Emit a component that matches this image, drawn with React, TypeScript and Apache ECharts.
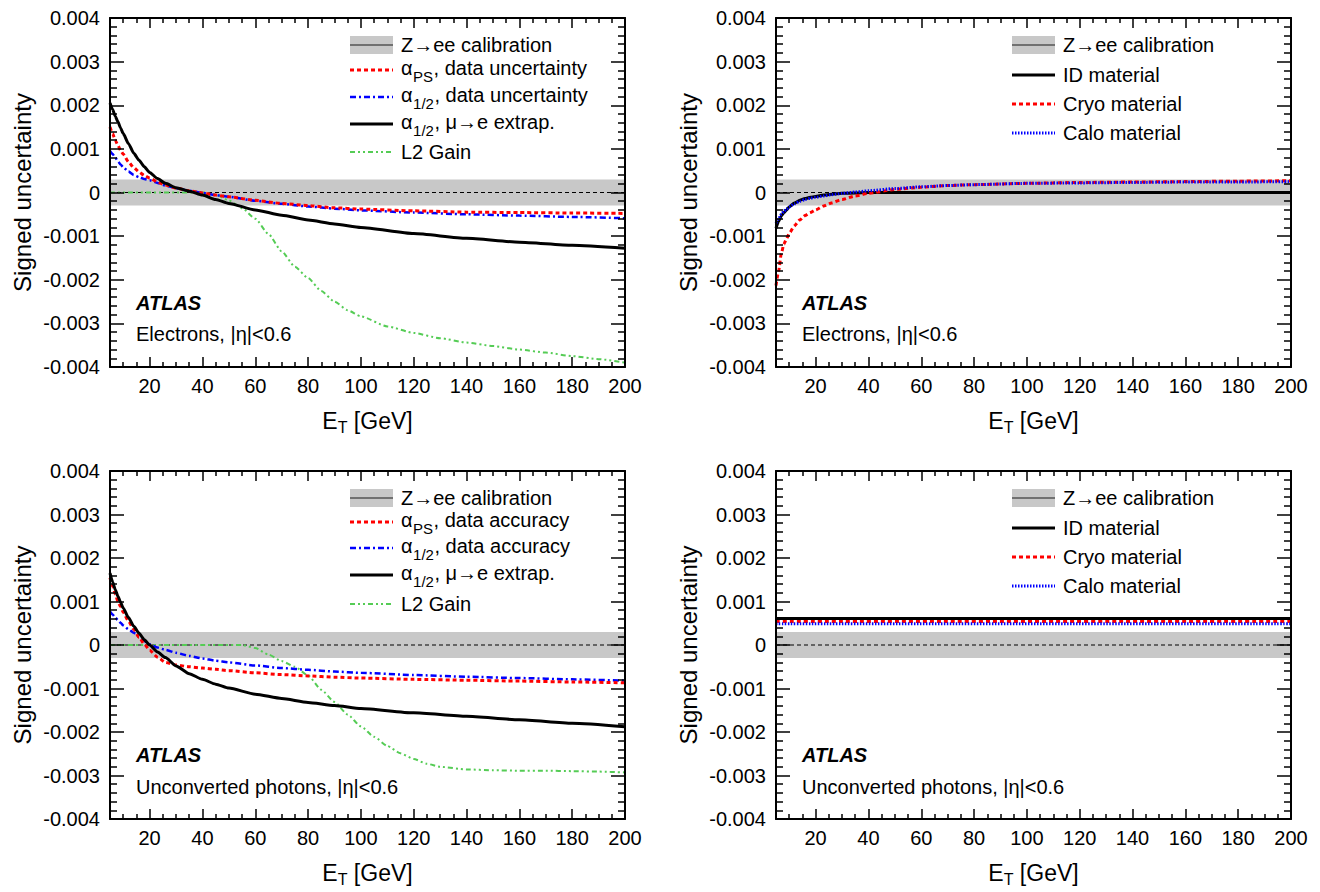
import React, { useEffect, useRef } from "react";
import * as echarts from "echarts";

const FONT = "'Liberation Sans', Arial, Helvetica, sans-serif";

// ---- axes ----
const X_MIN = 5;
const X_MAX = 200;
const X_MAJOR_TICKS = [20, 40, 60, 80, 100, 120, 140, 160, 180, 200];
const X_MINOR_TICKS = [10, 15, 25, 30, 35, 45, 50, 55, 65, 70, 75, 85, 90, 95, 105, 110, 115, 125, 130, 135, 145, 150, 155, 165, 170, 175, 185, 190, 195];
const Y_MIN = -0.004;
const Y_MAX = 0.004;
const Y_STEP = 0.001;
const Z_BAND = 0.0003;

// ---- Electrons, |eta|<0.6 : alpha / gain uncertainties ----
const E_EL_ALPHA = [5, 6, 7, 8, 9, 10, 12, 14, 16, 18, 20, 23, 26, 30, 35, 40, 45, 50, 60, 70, 80, 90, 100, 120, 140, 160, 180, 200];
const EL_PS = [0.0015, 0.00135, 0.0012, 0.00108, 0.00097, 0.00088, 0.0007, 0.00057, 0.00047, 0.00039, 0.00033, 0.00024, 0.00017, 0.0001, 0.00004, -0.00001, -0.00006, -0.0001, -0.00018, -0.00025, -0.0003, -0.00035, -0.00038, -0.00042, -0.00045, -0.00046, -0.00047, -0.00048];
const EL_HALF = [0.00095, 0.00088, 0.0008, 0.00072, 0.00064, 0.00058, 0.00048, 0.0004, 0.00035, 0.00031, 0.00028, 0.00022, 0.00016, 0.0001, 0.00004, -0.00001, -0.00006, -0.0001, -0.00019, -0.00026, -0.00032, -0.00037, -0.00041, -0.00046, -0.0005, -0.00053, -0.00056, -0.00059];
const EL_MUE = [0.00205, 0.0019, 0.00175, 0.00162, 0.00148, 0.00135, 0.00112, 0.0009, 0.00074, 0.00059, 0.00046, 0.00032, 0.00021, 0.00011, 0.00003, -0.00006, -0.00016, -0.00025, -0.0004, -0.00052, -0.00063, -0.00072, -0.0008, -0.00094, -0.00105, -0.00114, -0.00121, -0.00128];
const E_EL_L2 = [5, 40, 45, 50, 55, 60, 65, 70, 75, 80, 85, 90, 95, 100, 110, 120, 130, 140, 150, 160, 170, 180, 190, 200];
const EL_L2 = [0, 0, -0.00005, -0.00018, -0.00036, -0.0006, -0.00095, -0.00135, -0.0017, -0.00196, -0.00226, -0.0025, -0.0027, -0.00284, -0.00307, -0.00322, -0.00334, -0.00344, -0.00352, -0.0036, -0.00367, -0.00375, -0.00382, -0.0039];

// ---- Electrons, |eta|<0.6 : material ----
const E_EL_MAT = [5, 6, 7, 8, 9, 10, 12, 14, 16, 18, 20, 23, 26, 30, 35, 40, 50, 60, 70, 80, 100, 120, 140, 160, 180, 200];
const EL_ID = [-0.00082, -0.00066, -0.00054, -0.00046, -0.0004, -0.00033, -0.00024, -0.00018, -0.00014, -0.00011, -0.00009, -0.00006, -0.00004, -0.00002, -0.00001, 0, 0, 0, 0, 0, 0, 0, 0, 0, 0, 0];
const EL_CRYO = [-0.00213, -0.0018, -0.0014, -0.00118, -0.00106, -0.00094, -0.00076, -0.00063, -0.00053, -0.00046, -0.0004, -0.00031, -0.00024, -0.00016, -0.00008, -0.00002, 0.00007, 0.00012, 0.00016, 0.00018, 0.00021, 0.00023, 0.00024, 0.00025, 0.00026, 0.00027];
const EL_CALO = [-0.0007, -0.0006, -0.0005, -0.00043, -0.00038, -0.00033, -0.00026, -0.0002, -0.00016, -0.00013, -0.00011, -0.00008, -0.00005, -0.00002, 0.00001, 0.00004, 0.00009, 0.00013, 0.00016, 0.00018, 0.00021, 0.00022, 0.00023, 0.00024, 0.00024, 0.00025];

// ---- Unconverted photons, |eta|<0.6 : alpha / gain ----
const E_PH_ALPHA = [5, 6, 7, 8, 9, 10, 12, 14, 16, 18, 20, 23, 26, 30, 35, 40, 45, 50, 60, 70, 80, 90, 100, 120, 140, 160, 180, 200];
const PH_PS = [0.00155, 0.00135, 0.00117, 0.001, 0.00088, 0.00075, 0.00055, 0.00036, 0.00018, 0.00002, -0.00012, -0.00028, -0.0004, -0.00046, -0.0005, -0.00053, -0.00056, -0.00059, -0.00064, -0.00068, -0.00071, -0.00074, -0.00076, -0.00079, -0.00081, -0.00083, -0.00085, -0.00087];
const PH_HALF = [0.00077, 0.0007, 0.00063, 0.00057, 0.00051, 0.00045, 0.00036, 0.00028, 0.00018, 0.00009, 0.00002, -0.00006, -0.00011, -0.00018, -0.00025, -0.00031, -0.00036, -0.0004, -0.00047, -0.00053, -0.00057, -0.00061, -0.00064, -0.00069, -0.00073, -0.00076, -0.00079, -0.00082];
const PH_MUE = [0.00165, 0.00145, 0.00127, 0.00112, 0.00098, 0.00085, 0.00063, 0.00043, 0.00027, 0.00012, 0, -0.00016, -0.00029, -0.00048, -0.00066, -0.00079, -0.0009, -0.00099, -0.00113, -0.00123, -0.00132, -0.00139, -0.00146, -0.00156, -0.00164, -0.00172, -0.0018, -0.00188];
const E_PH_L2 = [5, 55, 60, 65, 70, 75, 80, 85, 90, 95, 100, 105, 110, 115, 120, 125, 130, 140, 150, 160, 170, 180, 190, 200];
const PH_L2 = [0, 0, -0.00007, -0.00022, -0.00037, -0.0005, -0.0007, -0.00103, -0.00131, -0.0016, -0.00187, -0.00211, -0.00232, -0.00249, -0.00262, -0.00273, -0.0028, -0.00286, -0.00288, -0.00289, -0.00289, -0.0029, -0.00291, -0.00293];

// ---- Unconverted photons, |eta|<0.6 : material ----
const E_PH_MAT = [5, 200];
const PH_ID = [0.00061, 0.00061];
const PH_CRYO = [0.00054, 0.00054];
const PH_CALO = [0.00049, 0.00049];

// ---- texts ----
const Y_TITLE = "Signed uncertainty";
const X_TITLE = "{e|E}{t|T}{e| [GeV]}";
const ATLAS_LABEL = "ATLAS";
const PANEL_LABELS = ["Electrons, |η|<0.6", "Electrons, |η|<0.6", "Unconverted photons, |η|<0.6", "Unconverted photons, |η|<0.6"];
const LEGEND_EL_ALPHA = [
  { pre: "Z→ee calibration" },
  { pre: "α", sub: "PS", post: ", data uncertainty" },
  { pre: "α", sub: "1/2", post: ", data uncertainty" },
  { pre: "α", sub: "1/2", post: ", μ→e extrap." },
  { pre: "L2 Gain" },
];
const LEGEND_PH_ALPHA = [
  { pre: "Z→ee calibration" },
  { pre: "α", sub: "PS", post: ", data accuracy" },
  { pre: "α", sub: "1/2", post: ", data accuracy" },
  { pre: "α", sub: "1/2", post: ", μ→e extrap." },
  { pre: "L2 Gain" },
];
const LEGEND_MAT = [{ pre: "Z→ee calibration" }, { pre: "ID material" }, { pre: "Cryo material" }, { pre: "Calo material" }];

// ---- styles ----
const RED_DASH = { color: "#ff0000", width: 3, type: [4, 3] };
const BLUE_DASHDOT = { color: "#0000ff", width: 2.5, type: [6, 3, 2, 3] };
const BLACK_SOLID = { color: "#000000", width: 3, type: "solid" };
const GREEN_DDD = { color: "#55cc55", width: 2, type: [5, 3, 2, 3, 2, 3] };
const BLUE_DOT = { color: "#0000ff", width: 3, type: [1.5, 1.5] };

const GRIDS = [
  { left: 110, top: 18, width: 515, height: 349 },
  { left: 776, top: 18, width: 515, height: 349 },
  { left: 110, top: 471, width: 515, height: 348 },
  { left: 776, top: 471, width: 515, height: 348 },
];

const LEGEND_FONT = 20;
const SUB_FONT = 15;

let measureCtx: CanvasRenderingContext2D | null = null;
function textWidth(t: string, size: number) {
  if (!measureCtx) measureCtx = document.createElement("canvas").getContext("2d");
  if (!measureCtx) return t.length * size * 0.55;
  measureCtx.font = `${size}px ${FONT}`;
  return measureCtx.measureText(t).width;
}

function xAxesFor(g: number) {
  const tickStyle = { color: "#000", width: 1.5 };
  const common = {
    type: "value",
    gridIndex: g,
    min: X_MIN,
    max: X_MAX,
    z: 10,
    splitLine: { show: false },
    axisLine: { show: true, onZero: false, lineStyle: { color: "#000", width: 2 } },
  };
  return [
    {
      ...common,
      position: "bottom",
      name: X_TITLE,
      nameLocation: "middle",
      nameGap: 40,
      nameTextStyle: {
        rich: {
          e: { fontSize: 23, fontFamily: FONT, color: "#000", lineHeight: 28 },
          t: { fontSize: 16, fontFamily: FONT, color: "#000", lineHeight: 12, verticalAlign: "bottom" },
        },
      },
      axisTick: { show: true, inside: true, length: 10, customValues: X_MAJOR_TICKS, lineStyle: tickStyle },
      axisLabel: { show: true, customValues: X_MAJOR_TICKS, fontSize: 20, fontFamily: FONT, color: "#000", margin: 9 },
    },
    {
      ...common,
      position: "bottom",
      axisLine: { show: false, onZero: false },
      axisTick: { show: true, inside: true, length: 5, customValues: X_MINOR_TICKS, lineStyle: tickStyle },
      axisLabel: { show: false },
    },
    {
      ...common,
      position: "top",
      axisTick: { show: true, inside: true, length: 10, customValues: X_MAJOR_TICKS, lineStyle: tickStyle },
      axisLabel: { show: false },
    },
    {
      ...common,
      position: "top",
      axisLine: { show: false, onZero: false },
      axisTick: { show: true, inside: true, length: 5, customValues: X_MINOR_TICKS, lineStyle: tickStyle },
      axisLabel: { show: false },
    },
  ];
}

function yAxesFor(g: number) {
  const tickStyle = { color: "#000", width: 1.5 };
  const common = {
    type: "value",
    gridIndex: g,
    min: Y_MIN,
    max: Y_MAX,
    interval: Y_STEP,
    z: 10,
    splitLine: { show: false },
    axisLine: { show: true, onZero: false, lineStyle: { color: "#000", width: 2 } },
    axisTick: { show: true, inside: true, length: 14, lineStyle: tickStyle },
    minorTick: { show: true, splitNumber: 5, length: 7, lineStyle: tickStyle },
  };
  return [
    {
      ...common,
      position: "left",
      name: Y_TITLE,
      nameLocation: "middle",
      nameGap: 76,
      nameTextStyle: { fontSize: 24, fontFamily: FONT, color: "#000" },
      axisLabel: {
        show: true,
        fontSize: 20,
        fontFamily: FONT,
        color: "#000",
        margin: 10,
        formatter: (v: number) => (Math.abs(v) < 1e-9 ? "0" : v.toFixed(3)),
      },
    },
    { ...common, position: "right", axisLabel: { show: false } },
  ];
}

function line(g: number, E: number[], V: number[], style: any, z: number) {
  return {
    type: "line",
    xAxisIndex: 4 * g,
    yAxisIndex: 2 * g,
    data: E.map((e, i) => [e, V[i]]),
    symbol: "none",
    showSymbol: false,
    smooth: 0.2,
    smoothMonotone: "x",
    lineStyle: style,
    silent: true,
    clip: true,
    z,
  };
}

function bandSeries(g: number) {
  return [
    {
      type: "line",
      xAxisIndex: 4 * g,
      yAxisIndex: 2 * g,
      data: [[X_MIN, 0], [X_MAX, 0]],
      symbol: "none",
      lineStyle: { opacity: 0 },
      silent: true,
      z: 1,
      markArea: {
        silent: true,
        itemStyle: { color: "#c8c8c8" },
        data: [[{ yAxis: -Z_BAND }, { yAxis: Z_BAND }]],
      },
    },
    {
      type: "line",
      xAxisIndex: 4 * g,
      yAxisIndex: 2 * g,
      data: [[X_MIN, 0], [X_MAX, 0]],
      symbol: "none",
      lineStyle: { color: "#000", width: 1, type: [4, 3] },
      silent: true,
      z: 2,
    },
  ];
}

function txt(x: number, y: number, text: string, size: number, extra: any = {}) {
  return {
    type: "text",
    x,
    y,
    style: { text, fontSize: size, fontFamily: FONT, fill: "#000", verticalAlign: "middle", align: "left", ...extra },
  };
}

function legend(x0: number, rows: number[], labels: any[], styles: any[]) {
  const els: any[] = [];
  rows.forEach((y, i) => {
    const st = styles[i];
    if (st === "band") {
      els.push({ type: "rect", shape: { x: x0, y: y - 9, width: 43, height: 18 }, style: { fill: "#c8c8c8" } });
      els.push({ type: "line", shape: { x1: x0, y1: y, x2: x0 + 43, y2: y }, style: { stroke: "#555", lineWidth: 1.5 } });
    } else {
      els.push({
        type: "line",
        shape: { x1: x0, y1: y, x2: x0 + 43, y2: y },
        style: { stroke: st.color, lineWidth: st.width, lineDash: Array.isArray(st.type) ? st.type : null },
      });
    }
    const lab = labels[i];
    const tx = x0 + 51;
    if (!lab.sub) {
      els.push(txt(tx, y, lab.pre, LEGEND_FONT));
    } else {
      const yMain = y - 2;
      const w1 = textWidth(lab.pre, LEGEND_FONT);
      const w2 = textWidth(lab.sub, SUB_FONT);
      els.push(txt(tx, yMain, lab.pre, LEGEND_FONT));
      els.push(txt(tx + w1 + 0.5, yMain + 8.5, lab.sub, SUB_FONT));
      els.push(txt(tx + w1 + w2 + 1, yMain, lab.post, LEGEND_FONT));
    }
  });
  return els;
}

function panelLabels(x: number, yAtlas: number, yText: number, text: string) {
  return [
    txt(x, yAtlas, ATLAS_LABEL, 20, { fontWeight: "bold", fontStyle: "italic" }),
    txt(x, yText, text, 20),
  ];
}

export default function App() {
  const ref = useRef<HTMLDivElement>(null);
  useEffect(() => {
    if (!ref.current) return;
    const chart = echarts.init(ref.current, null, { renderer: "svg" });
    const xAxis: any[] = [];
    const yAxis: any[] = [];
    for (let g = 0; g < 4; g++) {
      xAxis.push(...xAxesFor(g));
      yAxis.push(...yAxesFor(g));
    }
    const series: any[] = [
      ...bandSeries(0),
      line(0, E_EL_L2, EL_L2, GREEN_DDD, 3),
      line(0, E_EL_ALPHA, EL_HALF, BLUE_DASHDOT, 4),
      line(0, E_EL_ALPHA, EL_PS, RED_DASH, 5),
      line(0, E_EL_ALPHA, EL_MUE, BLACK_SOLID, 6),
      ...bandSeries(1),
      line(1, E_EL_MAT, EL_ID, BLACK_SOLID, 3),
      line(1, E_EL_MAT, EL_CRYO, RED_DASH, 4),
      line(1, E_EL_MAT, EL_CALO, BLUE_DOT, 5),
      ...bandSeries(2),
      line(2, E_PH_L2, PH_L2, GREEN_DDD, 3),
      line(2, E_PH_ALPHA, PH_HALF, BLUE_DASHDOT, 4),
      line(2, E_PH_ALPHA, PH_PS, RED_DASH, 5),
      line(2, E_PH_ALPHA, PH_MUE, BLACK_SOLID, 6),
      ...bandSeries(3),
      line(3, E_PH_MAT, PH_ID, BLACK_SOLID, 3),
      line(3, E_PH_MAT, PH_CRYO, RED_DASH, 4),
      line(3, E_PH_MAT, PH_CALO, BLUE_DOT, 5),
    ];
    const graphic: any[] = [
      ...legend(350, [45, 70, 97, 124, 152], LEGEND_EL_ALPHA, ["band", RED_DASH, BLUE_DASHDOT, BLACK_SOLID, GREEN_DDD]),
      ...legend(1012, [45, 75, 104, 133], LEGEND_MAT, ["band", BLACK_SOLID, RED_DASH, BLUE_DOT]),
      ...legend(350, [498, 522, 548, 575, 604], LEGEND_PH_ALPHA, ["band", RED_DASH, BLUE_DASHDOT, BLACK_SOLID, GREEN_DDD]),
      ...legend(1012, [498, 528, 557, 586], LEGEND_MAT, ["band", BLACK_SOLID, RED_DASH, BLUE_DOT]),
      ...panelLabels(136, 303, 334, PANEL_LABELS[0]),
      ...panelLabels(802, 303, 334, PANEL_LABELS[1]),
      ...panelLabels(136, 755, 787, PANEL_LABELS[2]),
      ...panelLabels(802, 755, 787, PANEL_LABELS[3]),
    ];
    chart.setOption({
      animation: false,
      backgroundColor: "#ffffff",
      textStyle: { fontFamily: FONT },
      grid: GRIDS.map((g) => ({ ...g, containLabel: false })),
      xAxis,
      yAxis,
      series,
      graphic,
    });
    return () => chart.dispose();
  }, []);
  return <div ref={ref} style={{ position: "absolute", left: 0, top: 0, width: 1320, height: 892, background: "#fff" }} />;
}
